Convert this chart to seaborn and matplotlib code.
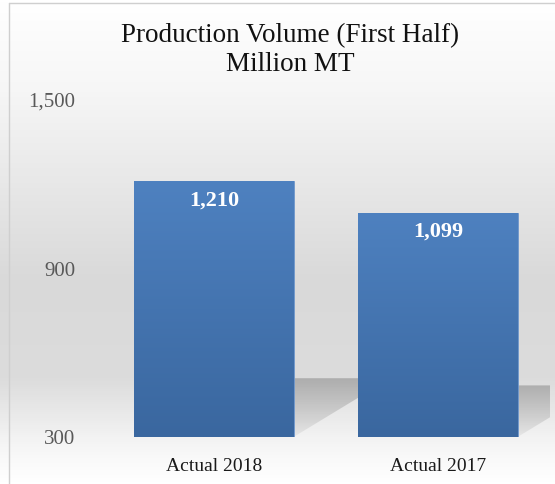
import numpy as np
import matplotlib
matplotlib.use("Agg")
import matplotlib.pyplot as plt
import seaborn as sns
from matplotlib.colors import LinearSegmentedColormap
from matplotlib.patches import Polygon
from matplotlib.lines import Line2D

# chart data
categories = ["Actual 2018", "Actual 2017"]
values = [1210, 1099]
y_ticks = [300, 900, 1500]
title = "Production Volume (First Half)\nMillion MT"

sns.set_theme(style="white")
plt.rcParams["font.family"] = ["Liberation Serif", "DejaVu Serif"]

W, H = 555, 484
fig = plt.figure(figsize=(W / 100, H / 100), dpi=100)
fig.patch.set_facecolor("white")

# background gradient over the whole chart area
bg = fig.add_axes([0, 0, 1, 1], zorder=-10)
stops = [(0.0, "#ffffff"), (90 / H, "#f6f6f6"), (280 / H, "#d9d9d9"),
         (380 / H, "#dcdcdc"), (445 / H, "#f5f5f5"), (1.0, "#ffffff")]
bg_cmap = LinearSegmentedColormap.from_list("bg", stops)
bg.imshow(np.linspace(0, 1, 300).reshape(-1, 1), cmap=bg_cmap, aspect="auto",
          extent=[0, 1, 0, 1], origin="upper")
bg.set_axis_off()

# chart border (left and top visible)
fig.add_artist(Line2D([9 / W, 9 / W], [0, 1 - 3 / H], color="#cfcfcf", lw=1))
fig.add_artist(Line2D([9 / W, 1], [1 - 3 / H, 1 - 3 / H], color="#cfcfcf", lw=1))

ax = fig.add_axes([102 / W, 47 / H, 448 / W, 337 / H])
ax.set_facecolor("none")

sns.barplot(x=categories, y=values, color="#4a7ebb", width=0.71,
            saturation=1, ax=ax, zorder=3, edgecolor="#6f97cc", linewidth=0.6)

ax.set_xlim(-0.5, 1.5)
ax.set_ylim(y_ticks[0], y_ticks[-1])
ax.set_yticks(y_ticks)
ax.set_yticklabels([f"{t:,}" for t in y_ticks])

# bar gradient and perspective shadow
bar_cmap = LinearSegmentedColormap.from_list("bar", ["#4e81c0", "#3a679f"])
base = y_ticks[0]
for patch in list(ax.patches):
    x0 = patch.get_x()
    x1 = x0 + patch.get_width()
    top = patch.get_y() + patch.get_height()
    h = top - base
    im = ax.imshow(np.linspace(0, 1, 200).reshape(-1, 1), cmap=bar_cmap,
                   extent=[x0, x1, base, top], origin="upper", aspect="auto",
                   zorder=3.5)
    im.set_clip_path(patch)

    # sheared shadow lying behind the bar
    s = 0.000475 * h
    dy = 0.23 * h
    poly = Polygon([(x0, base), (x1, base), (x1 + s, base + dy), (x0 + s, base + dy)],
                   closed=True, facecolor="none", edgecolor="none")
    ax.add_patch(poly)
    rgba = np.zeros((100, 1, 4))
    rgba[..., :3] = 0.5
    rgba[:, 0, 3] = np.linspace(0.5, 0.1, 100)
    sh = ax.imshow(rgba, extent=[x0, x1 + s, base, base + dy], origin="upper",
                   aspect="auto", zorder=2)
    sh.set_clip_path(poly)

ax.set_xlim(-0.5, 1.5)
ax.set_ylim(y_ticks[0], y_ticks[-1])
ax.set_aspect("auto")

# value labels inside bars
for i, v in enumerate(values):
    ax.annotate(f"{v:,}", xy=(i, v), xytext=(0, -14), textcoords="offset points",
                ha="center", va="center", color="white", fontsize=16,
                fontweight="bold", zorder=5)

ax.tick_params(axis="y", length=0, pad=19, labelsize=15, labelcolor="#595959")
ax.tick_params(axis="x", length=0, pad=15, labelsize=14, labelcolor="#1a1a1a")
ax.set_xlabel("")
ax.set_ylabel("")
sns.despine(ax=ax, left=True, bottom=True)
ax.grid(False)

fig.text(290 / W, 1 - 50 / H, title, ha="center", va="center", fontsize=19.5,
         color="#111111", linespacing=1.25)

fig.savefig("out.png", dpi=100)
